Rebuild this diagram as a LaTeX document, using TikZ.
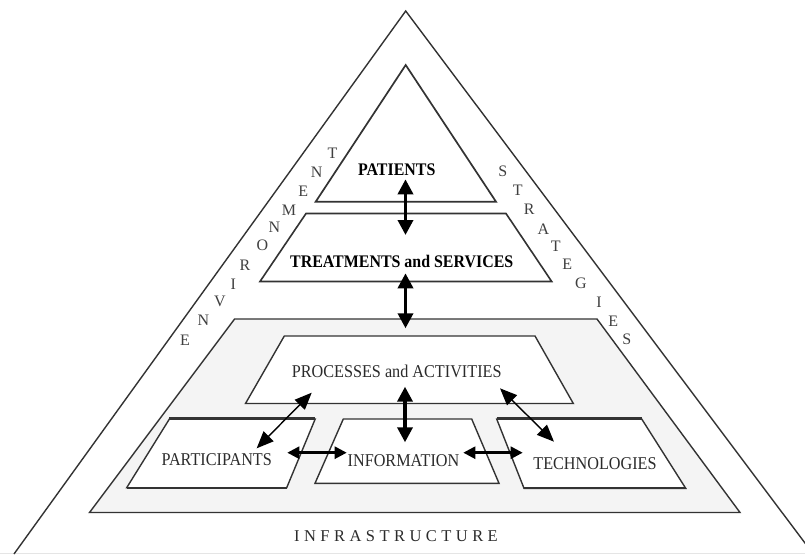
\documentclass[tikz,border=0pt]{standalone}
\usepackage{fontspec}
\setmainfont{Liberation Serif}
\newfontfamily\cond[FakeStretch=0.9]{Liberation Serif}
\usetikzlibrary{arrows.meta}
\definecolor{linec}{HTML}{333333}
\definecolor{fillg}{HTML}{F4F4F4}
\definecolor{txtc}{HTML}{2B2B2B}
\definecolor{lettc}{HTML}{404040}
\begin{document}
\begin{tikzpicture}[x=1pt,y=-1pt,
  edge/.style={draw=linec,line width=1.4pt,line join=miter},
  lbl/.style={inner sep=0pt,text=txtc,font=\cond\fontsize{18}{20}\selectfont},
  blbl/.style={inner sep=0pt,text=black,font=\cond\bfseries\fontsize{17.7}{20}\selectfont},
  lett/.style={inner sep=0pt,text=lettc,font=\fontsize{16}{17}\selectfont},
  infra/.style={inner sep=0pt,text=txtc,font=\fontsize{16.5}{18}\selectfont\addfontfeature{LetterSpace=27}},
  bigarrow/.style={line width=3.5pt,{Triangle[width=15pt,length=15pt]}-{Triangle[width=15pt,length=15pt]}},
  diagarrow/.style={line width=1.4pt,{Triangle[width=14pt,length=17pt]}-{Triangle[width=14pt,length=17pt]}},
  hzarrow/.style={line width=2.5pt,{Triangle[width=12pt,length=12pt]}-{Triangle[width=12pt,length=12pt]}}
]
\useasboundingbox (0,0) rectangle (805,554);
\clip (0,0) rectangle (805,554);
\fill[white] (0,0) rectangle (805,554);

% outer triangle
\draw[black!10,line width=1pt] (0,553.5) -- (805,553.5);
\draw[edge] (14,554) -- (405.7,11) -- (813.2,554);

% patients triangle
\draw[edge,line width=1.7pt] (405.7,65) -- (315.7,201.7) -- (496,201.7) -- cycle;
% treatments trapezoid
\draw[edge,line width=1.6pt] (306,213.5) -- (506,213.5) -- (551.7,281.5) -- (260,281.5) -- cycle;
% infrastructure area
\draw[edge,fill=fillg] (234.6,319) -- (597,319) -- (740,512.5) -- (89.5,512.5) -- cycle;
% processes
\draw[edge,fill=white] (284.3,336) -- (535,336) -- (573.3,403.5) -- (245.5,403.5) -- cycle;
% participants
\draw[edge,fill=white] (169.4,419) -- (315.2,419) -- (286.7,487.7) -- (126.7,487.7) -- cycle;
\draw[linec,line width=3pt] (169.4,418.3) -- (315.2,418.3);
\draw[linec,line width=2pt] (126.7,487.7) -- (286.7,487.7);
% information
\draw[edge,fill=white] (343.3,419) -- (471.7,419) -- (499,483.3) -- (315,483.3) -- cycle;
% technologies
\draw[edge,fill=white] (496.7,419) -- (641.7,419) -- (685.7,488.3) -- (524,488.3) -- cycle;
\draw[linec,line width=3pt] (496.7,418.3) -- (641.7,418.3);
\draw[linec,line width=2pt] (524,488.3) -- (685.7,488.3);

% texts
\node[blbl] (patients) at (396.7,170) {PATIENTS};
\node[blbl] (treat) at (401.7,261.7) {TREATMENTS and SERVICES};
\node[lbl] (proc) at (396.7,371.7) {PROCESSES and ACTIVITIES};
\node[lbl] (part) at (216.7,460) {PARTICIPANTS};
\node[lbl] (info) at (403.5,461) {INFORMATION};
\node[lbl] (tech) at (595,463.3) {TECHNOLOGIES};
\node[infra] (infr) at (396,536) {INFRASTRUCTURE};

% side letters
\foreach \l/\x/\y [count=\i] in {E/185/340, N/203.3/320.7, V/220/301.7, I/233.3/284.3, R/245/265.7, O/262.3/245.7, N/274.3/227.7, M/289/210, E/303.3/191, N/316.7/172.7, T/332.5/152.8}
  \node[lett] (env\i) at (\x,\y) {\l};
\foreach \l/\x/\y [count=\i] in {S/502.7/171.7, T/517.7/190.7, R/529.3/209, A/543.3/229, T/555.7/246, E/567.3/264.3, G/581/283.3, I/599/302.3, E/613.3/321, S/626.7/339}
  \node[lett] (str\i) at (\x,\y) {\l};

% arrow end points
\coordinate (a1s) at (405.5,179.3);
\coordinate (a1e) at (405.5,235);
\coordinate (a2s) at (405.5,273.3);
\coordinate (a2e) at (405.5,328.3);
\coordinate (a3s) at (405,386.7);
\coordinate (a3e) at (405,442.3);
\coordinate (a4s) at (256.7,448.3);
\coordinate (a4e) at (311.7,392.7);
\coordinate (a5s) at (500,388.3);
\coordinate (a5e) at (554,441.7);
\coordinate (a6s) at (287.3,452.7);
\coordinate (a6e) at (346.7,452.7);
\coordinate (a7s) at (463.3,452.7);
\coordinate (a7e) at (522.7,452.7);

\draw[bigarrow] (a1s) -- (a1e);
\draw[bigarrow] (a2s) -- (a2e);
\draw[bigarrow] (a3s) -- (a3e);
\draw[diagarrow] (a4s) -- (a4e);
\draw[diagarrow] (a5s) -- (a5e);
\draw[hzarrow] (a6s) -- (a6e);
\draw[hzarrow] (a7s) -- (a7e);
\end{tikzpicture}
\end{document}
